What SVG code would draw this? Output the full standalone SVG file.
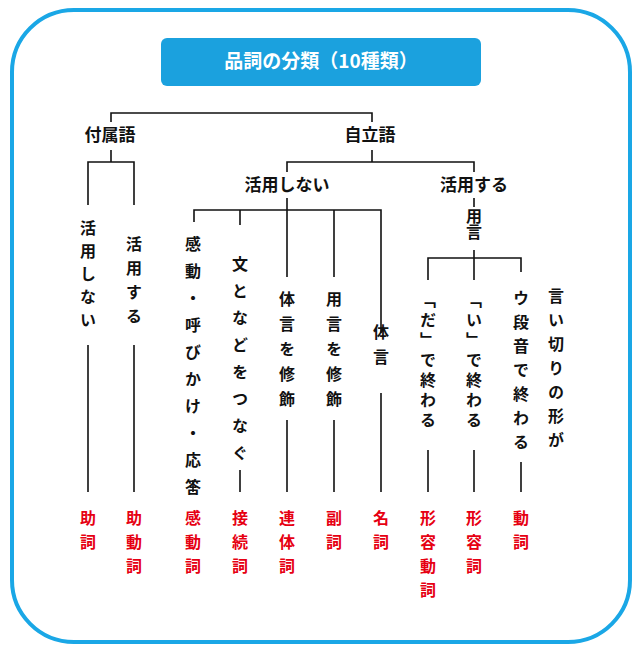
<svg xmlns="http://www.w3.org/2000/svg" width="643" height="654" viewBox="0 0 643 654">
<style>
.t{font-family:"Noto Sans CJK JP","Noto Sans",sans-serif;font-weight:bold;font-size:17px;fill:#111}
.v{font-family:"Noto Sans CJK JP","Noto Sans",sans-serif;font-weight:bold;font-size:16px;fill:#111;writing-mode:vertical-rl;text-orientation:upright}
.r{fill:#e60012}
.l{stroke:#111;stroke-width:1.6;fill:none}
</style>
<rect x="12" y="10" width="618" height="632" rx="62" fill="#fff" stroke="#1aa7e6" stroke-width="4"/>
<g id="title"><rect x="161" y="38" width="320" height="48" rx="6" fill="#1ba1de"/><text x="321" y="68" text-anchor="middle" class="t" style="fill:#fff;font-size:19px">品詞の分類（10種類）</text></g>
<g id="connectors" class="l">
<path d="M111 122V113H372V122M111 150V162M88 205V162H134V205M372 150V162M287 172V162H474V172"/>
<path d="M287 198V277M194 222V210H381V333M240 210V225M334 210V277"/>
<path d="M474 198V207M474 250V280M428 280V258H521V272"/>
<path d="M88 345V492M134 345V492M193 480V492M240 470V492M287 420V492M334 420V492M381 393V492M428 450V492M474 450V492M521 462V492"/>
</g>
<g id="n-fuzoku"><text x="110" y="141" text-anchor="middle" class="t">付属語</text></g>
<g id="n-jiritsu"><text x="370" y="141" text-anchor="middle" class="t">自立語</text></g>
<g id="n-katsuyoushinai"><text x="287" y="191" text-anchor="middle" class="t">活用しない</text></g>
<g id="n-katsuyousuru"><text x="474" y="191" text-anchor="middle" class="t">活用する</text></g>
<g id="n-yougen"><text x="474" y="208" class="v">用言</text></g>
<g id="c1"><text x="88" y="220" class="v" style="letter-spacing:7px">活用しない</text><text x="88" y="510" class="v r" style="letter-spacing:8px">助詞</text></g>
<g id="c2"><text x="134" y="236" class="v" style="letter-spacing:8px">活用する</text><text x="134" y="510" class="v r" style="letter-spacing:8px">助動詞</text></g>
<g id="c3"><text x="193" y="236" class="v" style="letter-spacing:11px">感動・呼びかけ・応答</text><text x="193" y="510" class="v r" style="letter-spacing:8px">感動詞</text></g>
<g id="c4"><text x="240" y="256" class="v" style="letter-spacing:11px">文となどをつなぐ</text><text x="240" y="510" class="v r" style="letter-spacing:8px">接続詞</text></g>
<g id="c5"><text x="287" y="291" class="v" style="letter-spacing:9px">体言を修飾</text><text x="287" y="510" class="v r" style="letter-spacing:8px">連体詞</text></g>
<g id="c6"><text x="334" y="291" class="v" style="letter-spacing:9px">用言を修飾</text><text x="334" y="510" class="v r" style="letter-spacing:8px">副詞</text></g>
<g id="c7"><text x="381" y="324" class="v" style="letter-spacing:9px">体言</text><text x="381" y="510" class="v r" style="letter-spacing:8px">名詞</text></g>
<g id="c8"><text x="428" y="292" class="v" style="letter-spacing:4px">「だ」で終わる</text><text x="428" y="510" class="v r" style="letter-spacing:8px">形容動詞</text></g>
<g id="c9"><text x="474" y="292" class="v" style="letter-spacing:4px">「い」で終わる</text><text x="474" y="510" class="v r" style="letter-spacing:8px">形容詞</text></g>
<g id="c10"><text x="521" y="290" class="v" style="letter-spacing:8px">ウ段音で終わる</text><text x="521" y="510" class="v r" style="letter-spacing:8px">動詞</text></g>
<g id="c11"><text x="556" y="288" class="v" style="letter-spacing:8px">言い切りの形が</text></g>
</svg>
